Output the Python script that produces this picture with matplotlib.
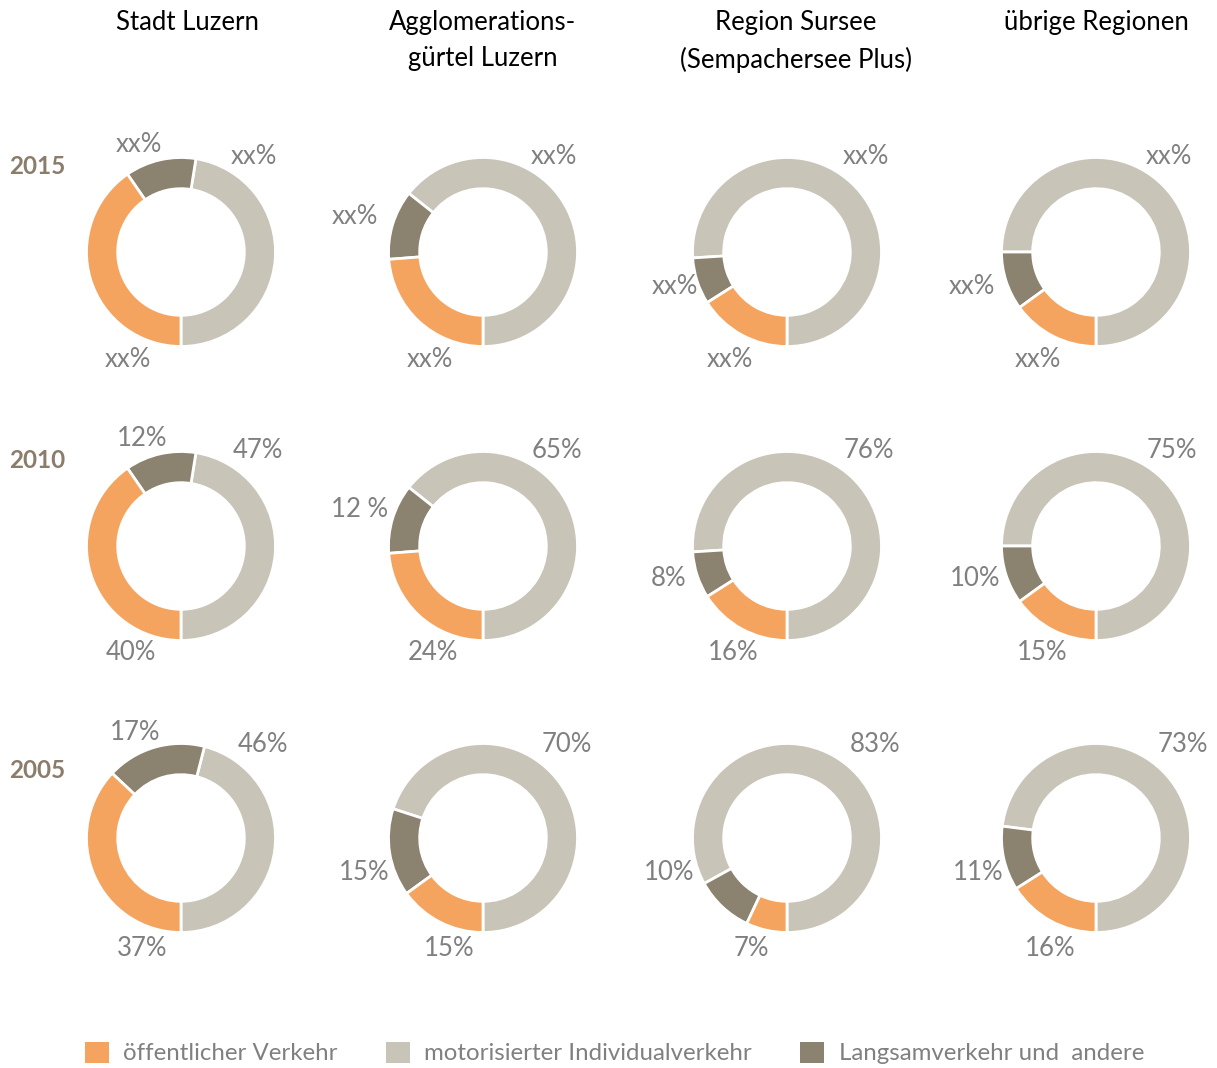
import matplotlib.pyplot as plt
from matplotlib.patches import Patch

W, H = 1217, 1068
DPI = 100
plt.rcParams["font.family"] = ["Lato", "DejaVu Sans"]

ORANGE = "#F4A45F"
GREY = "#C9C4B8"
BROWN = "#8C8270"
TEXT_GREY = "#808080"
YEAR_COLOR = "#8B7D6B"

regions = ["Stadt Luzern", "Agglomerations-\ngürtel Luzern",
           "Region Sursee\n(Sempachersee Plus)", "übrige Regionen"]
years = ["2015", "2010", "2005"]

# shares in percent: öffentlicher Verkehr, MIV, Langsamverkehr
oev_2010 = [40, 24, 16, 15]
miv_2010 = [47, 65, 76, 75]
lv_2010 = [12, 12, 8, 10]
oev_2005 = [37, 15, 7, 16]
miv_2005 = [46, 70, 83, 73]
lv_2005 = [17, 15, 10, 11]
# 2015 still placeholder labels, ring drawn with 2010 shares
oev_2015 = oev_2010
miv_2015 = miv_2010
lv_2015 = lv_2010

labels_2015 = [["xx%", "xx%", "xx%"]] * 4
labels_2010 = [["40%", "47%", "12%"], ["24%", "65%", "12 %"],
               ["16%", "76%", "8%"], ["15%", "75%", "10%"]]
labels_2005 = [["37%", "46%", "17%"], ["15%", "70%", "15%"],
               ["7%", "83%", "10%"], ["16%", "73%", "11%"]]

rows = [(oev_2015, miv_2015, lv_2015, labels_2015),
        (oev_2010, miv_2010, lv_2010, labels_2010),
        (oev_2005, miv_2005, lv_2005, labels_2005)]

# layout (pixels)
col_x = [181, 483, 787, 1096]
row_y = [252, 546, 838]
year_y = [166, 461, 771]
R = 94.5
title_x = [187, 483, 796, 1096]

# label offsets from ring centre in px (dx, dy up): oev, miv, lv
label_offsets = [
    [[(-53, -108), (73, 95), (-42, 108)],
     [(-53, -108), (71, 95), (-128, 35)],
     [(-57, -108), (79, 95), (-112, -34)],
     [(-58, -108), (73, 95), (-124, -34)]],
    [[(-50, -107), (77, 96), (-39, 108)],
     [(-50, -107), (74, 96), (-123, 36)],
     [(-54, -107), (82, 96), (-118, -32)],
     [(-54, -107), (76, 96), (-121, -32)]],
    [[(-39, -110), (82, 93), (-46, 105)],
     [(-34, -110), (84, 93), (-119, -35)],
     [(-36, -110), (88, 93), (-118, -35)],
     [(-46, -110), (87, 93), (-118, -35)]],
]

fig = plt.figure(figsize=(W / DPI, H / DPI), dpi=DPI, facecolor="white")

for i, (oev, miv, lv, labels) in enumerate(rows):
    for j in range(4):
        cx, cy = col_x[j], row_y[i]
        ax = fig.add_axes([(cx - R) / W, 1 - (cy + R) / H, 2 * R / W, 2 * R / H])
        ax.pie([miv[j], lv[j], oev[j]], colors=[GREY, BROWN, ORANGE],
               startangle=-90, counterclock=True, radius=1.0,
               wedgeprops=dict(width=0.33, edgecolor="white", linewidth=2))
        ax.set_xlim(-1, 1)
        ax.set_ylim(-1, 1)
        ax.axis("off")
        for k, (dx, dy) in enumerate(label_offsets[i][j]):
            fig.text((cx + dx) / W, 1 - (cy - dy) / H, labels[j][k],
                     ha="center", va="center", fontsize=18.5, color=TEXT_GREY)

    fig.text(37 / W, 1 - year_y[i] / H, years[i],
             ha="center", va="center", fontsize=17.5, fontweight="bold",
             color=YEAR_COLOR)

for j, name in enumerate(regions):
    fig.text(title_x[j] / W, 1 - 10 / H, name, ha="center", va="top",
             fontsize=18.5, color="black", linespacing=1.55)

handles = [Patch(facecolor=ORANGE), Patch(facecolor=GREY), Patch(facecolor=BROWN)]
fig.legend(handles, ["öffentlicher Verkehr", "motorisierter Individualverkehr",
                     "Langsamverkehr und  andere"],
           ncol=3, loc="center", bbox_to_anchor=(0.505, 1 - 1053 / H),
           frameon=False, fontsize=17.3, labelcolor=TEXT_GREY,
           handlelength=1.0, handleheight=1.0, handletextpad=0.6,
           columnspacing=2.0)

fig.savefig("out.png", dpi=DPI, facecolor="white")
